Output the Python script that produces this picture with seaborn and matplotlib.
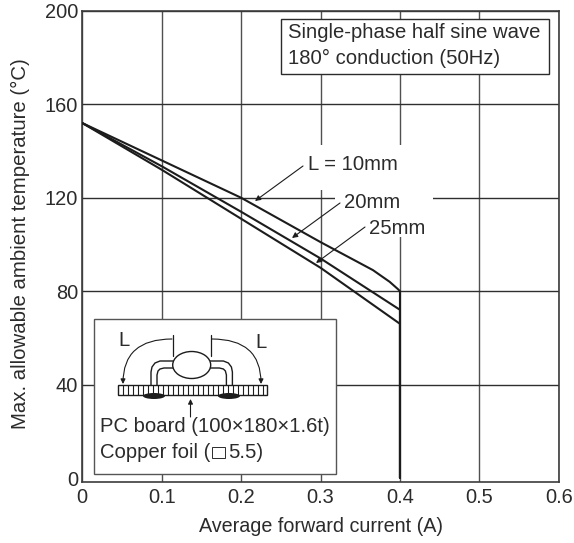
import numpy as np
import pandas as pd
import matplotlib
matplotlib.use("Agg")
import matplotlib.pyplot as plt
import seaborn as sns
from matplotlib.patches import Rectangle, Ellipse, FancyArrowPatch
from matplotlib.transforms import Affine2D

# =========================

# Data

# =========================

current_10 = [0, 0.1, 0.2, 0.3, 0.366, 0.387, 0.397, 0.4, 0.4]
temp_10 = [152, 136, 120, 101, 89, 84, 81, 80, 0]

current_20 = [0, 0.1, 0.2, 0.3, 0.4, 0.4]
temp_20 = [152, 133.5, 114, 94, 72, 0]

current_25 = [0, 0.1, 0.2, 0.3, 0.4, 0.4]
temp_25 = [152, 132, 111, 90, 66, 0]

x_ticks = [0, 0.1, 0.2, 0.3, 0.4, 0.5, 0.6]
x_tick_labels = ["0", "0.1", "0.2", "0.3", "0.4", "0.5", "0.6"]
y_ticks = [0, 40, 80, 120, 160, 200]
y_tick_labels = ["", "40", "80", "120", "160", "200"]

curves = pd.concat([
    pd.DataFrame({"current": current_10, "temp": temp_10, "L": "10mm"}),
    pd.DataFrame({"current": current_20, "temp": temp_20, "L": "20mm"}),
    pd.DataFrame({"current": current_25, "temp": temp_25, "L": "25mm"}),
])

# =========================

# Figure

# =========================

sns.set_style("white")
plt.rcParams["font.family"] = ["Liberation Sans", "DejaVu Sans"]

W, H = 574, 543
ink = "#2b2b2b"
grid_col = "#3c3c3c"
font_size = 14.6

fig = plt.figure(figsize=(W / 100, H / 100), dpi=100)
ax = fig.add_axes([82.3 / W, 1 - 481.5 / H, 476.5 / W, 470.5 / H])

# pixel coordinates of the picture, y going down
px = Affine2D().scale(1, -1).translate(0, H)

# =========================

# Grid gaps behind the labels

# =========================

for x0, y0, w, h in [(316, 145, 90, 45), (394, 190, 12, 47), (335, 190, 98, 20)]:
    ax.add_patch(Rectangle((x0, y0), w, h, transform=px, facecolor="white", edgecolor="none", zorder=1.5))

# =========================

# Curves

# =========================

sns.lineplot(data=curves, x="current", y="temp", units="L", estimator=None, sort=False,
             color="#1c1c1c", linewidth=1.5, ax=ax, zorder=3)

# the frame sits a little below the 0 line in the original
ax.set_xlim(0, 0.6)
ax.set_ylim(-1.54, 200)
ax.set_xticks(x_ticks)
ax.set_xticklabels(x_tick_labels)
ax.set_yticks(y_ticks)
ax.set_yticklabels(y_tick_labels)
ax.grid(True, axis="y", color="#2f2f2f", linewidth=1.0)
ax.grid(True, axis="x", color="#505050", linewidth=1.0)
ax.yaxis.get_gridlines()[0].set_visible(False)
ax.set_axisbelow(True)
ax.tick_params(axis="x", length=0, labelsize=14.4, labelcolor=ink, pad=5)
ax.tick_params(axis="y", length=0, labelsize=14.4, labelcolor=ink, pad=3)
for spine in ax.spines.values():
    spine.set_color(grid_col)
    spine.set_linewidth(1.2)

ax.text(78.5, 481, "0", transform=px, fontsize=14.4, color=ink, va="center", ha="right")

ax.set_xlabel("Average forward current (A)", fontsize=14.2, color=ink, labelpad=6.8)
ax.set_ylabel("Max. allowable ambient temperature (°C)", fontsize=14.7, color=ink, labelpad=0)
ax.yaxis.set_label_coords(-52 / 476.5, 0.506)

# =========================

# Curve labels

# =========================

ax.text(308, 164, "L = 10mm", transform=px, fontsize=font_size, color=ink, va="center", zorder=5)
ax.text(344, 202, "20mm", transform=px, fontsize=font_size, color=ink, va="center", zorder=5)
ax.text(369, 228, "25mm", transform=px, fontsize=font_size, color=ink, va="center", zorder=5)


def arrow(start, end, style="arc3,rad=0", scale=8, zorder=6):
    ax.add_patch(FancyArrowPatch(start, end, transform=px, arrowstyle="-|>", mutation_scale=scale,
                                 connectionstyle=style, color="#1c1c1c", linewidth=0.8,
                                 shrinkA=0, shrinkB=0, zorder=zorder))


arrow((303, 166), (255, 201))
arrow((340, 203), (292, 238))
arrow((365, 227), (316, 263))

# =========================

# Conditions box

# =========================

ax.add_patch(Rectangle((281, 19), 268, 55, transform=px, facecolor="white", edgecolor=ink, linewidth=1.0, zorder=4))
ax.text(288, 32, "Single-phase half sine wave", transform=px, fontsize=font_size, color=ink, va="center", zorder=5)
ax.text(288, 58, "180° conduction (50Hz)", transform=px, fontsize=font_size, color=ink, va="center", zorder=5)

# =========================

# Mounting sketch

# =========================

ax.add_patch(Rectangle((94.3, 319), 242, 155.3, transform=px, facecolor="white", edgecolor="#555555", linewidth=1.0, zorder=4))
ax.text(100, 427, "PC board (100×180×1.6t)", transform=px, fontsize=font_size, color=ink, va="center", zorder=5)
ax.text(100, 452, "Copper foil (", transform=px, fontsize=font_size, color=ink, va="center", zorder=5)
ax.add_patch(Rectangle((212, 447), 13, 11, transform=px, facecolor="none", edgecolor=ink, linewidth=0.7, zorder=5))
ax.text(228, 452, "5.5)", transform=px, fontsize=font_size, color=ink, va="center", zorder=5)

ax.add_patch(Rectangle((118, 385), 149, 10, transform=px, facecolor="white", edgecolor="#1c1c1c", linewidth=1.0, zorder=5))
for hatch_x in np.arange(123, 267, 5):
    ax.plot([hatch_x, hatch_x], [385, 395], transform=px, color="#1c1c1c", linewidth=0.8, zorder=5)
for pad_x in [(143, 165), (218, 240)]:
    ax.add_patch(Ellipse((sum(pad_x) / 2, 396), pad_x[1] - pad_x[0], 6, transform=px, facecolor="#1c1c1c",
                         edgecolor="none", zorder=5))

lead_outer = [(151, 385), (151, 372), (152, 367), (155, 363), (160, 361), (173, 361)]
lead_inner = [(157, 385), (157, 375), (158, 371), (160, 369), (164, 368), (174, 368)]
for lead in (lead_outer, lead_inner):
    xs, ys = zip(*lead)
    ax.plot(xs, ys, transform=px, color="#1c1c1c", linewidth=1.0, zorder=5)
    ax.plot([383.4 - v for v in xs], ys, transform=px, color="#1c1c1c", linewidth=1.0, zorder=5)

ax.add_patch(Ellipse((191.7, 365), 38, 27, transform=px, facecolor="white", edgecolor="#1c1c1c", linewidth=1.0, zorder=6))
ax.plot([173, 173], [335, 356], transform=px, color="#1c1c1c", linewidth=0.9, zorder=6)
ax.plot([210.5, 210.5], [335, 356], transform=px, color="#1c1c1c", linewidth=0.9, zorder=6)

arrow((172, 339), (123, 384), style="angle3,angleA=0,angleB=90", scale=7)
arrow((212, 339), (261, 384), style="angle3,angleA=0,angleB=90", scale=7)
arrow((190.5, 417), (190.5, 399), scale=7)
ax.text(124, 341, "L", transform=px, fontsize=font_size, color=ink, va="center", ha="center", zorder=6)
ax.text(261, 343, "L", transform=px, fontsize=font_size, color=ink, va="center", ha="center", zorder=6)

fig.savefig("out.png", dpi=100)
